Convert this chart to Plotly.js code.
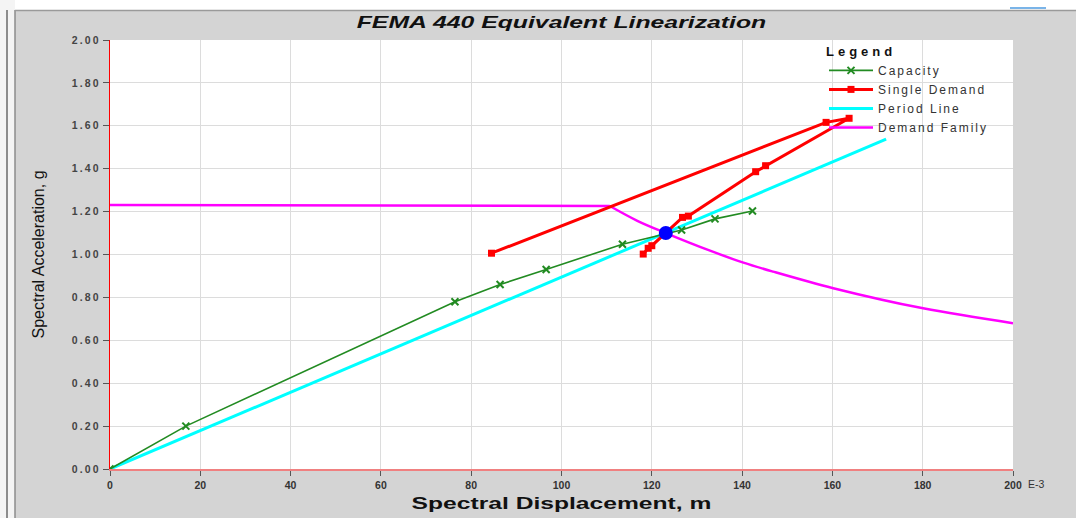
<!DOCTYPE html>
<html>
<head>
<meta charset="utf-8">
<script src="https://cdn.plot.ly/plotly-3.0.1.min.js"></script>
<style>
  html, body { margin: 0; padding: 0; background: #ffffff; }
  #chart { width: 1076px; height: 518px; }
  /* wide, spaced lettering used by the chart's captions */
  #chart .gtitle {
    transform-box: fill-box; transform-origin: center; transform: scaleX(1.55);
  }
  #chart .xtitle {
    transform-box: fill-box; transform-origin: center; transform: scaleX(1.45);
  }
  .legendtext { letter-spacing: 2px; }
  .legendtitletext { letter-spacing: 4px; }
  #chart .ytick text { letter-spacing: 2.2px; }
</style>
</head>
<body>
<div id="chart"></div>
<script>
// Capacity curve (spectral displacement in E-3 m, spectral acceleration in g)
const capacitySd = [0, 16.8, 76.4, 86.4, 96.6, 113.5, 126.6, 134.0, 142.3];
const capacitySa = [0, 0.20, 0.78, 0.86, 0.93, 1.048, 1.114, 1.166, 1.203];

// Single demand spectrum
const singleSd = [84.5, 158.6, 163.7, 145.2, 143.0, 128.1, 126.8, 120.0, 119.2, 118.1];
const singleSa = [1.006, 1.616, 1.635, 1.414, 1.386, 1.179, 1.173, 1.041, 1.029, 1.002];

// Period line through the origin
const periodSd = [0, 171.9];
const periodSa = [0, 1.538];

// Demand family (MADRS): constant-acceleration plateau, then the descending branch
const plateauSd = [0, 110.7];
const plateauSa = [1.231, 1.226];
const branchSd = [110.7, 116.8, 123.1, 132.9, 140.3, 146.9, 160.2, 180.1, 200];
const branchSa = [1.226, 1.157, 1.10, 1.018, 0.962, 0.920, 0.843, 0.749, 0.680];

// Performance point
const perfSd = [123.1];
const perfSa = [1.10];

// Axis ticks
const xTicks = [0, 20, 40, 60, 80, 100, 120, 140, 160, 180, 200];
const yTicks = [0, 0.2, 0.4, 0.6, 0.8, 1.0, 1.2, 1.4, 1.6, 1.8, 2.0];

const FONT = 'Arial, "Liberation Sans", sans-serif';

const traces = [
  {
    x: plateauSd, y: plateauSa, name: 'Demand Family', mode: 'lines',
    legendgroup: 'family', line: { color: '#ff00ff', width: 2.5 }, legendrank: 4
  },
  {
    x: branchSd, y: branchSa, name: 'Demand Family', mode: 'lines',
    legendgroup: 'family', showlegend: false,
    line: { color: '#ff00ff', width: 2.5, shape: 'spline', smoothing: 1 }
  },
  {
    x: periodSd, y: periodSa, name: 'Period Line', mode: 'lines',
    line: { color: '#00ffff', width: 3 }, legendrank: 3
  },
  {
    x: capacitySd, y: capacitySa, name: 'Capacity', mode: 'lines+markers',
    line: { color: '#228b22', width: 1.6 },
    marker: { symbol: 'x-thin', size: 7, color: '#228b22', line: { color: '#228b22', width: 2 } },
    legendrank: 1
  },
  {
    x: singleSd, y: singleSa, name: 'Single Demand', mode: 'lines+markers',
    line: { color: '#ff0000', width: 3 },
    marker: { symbol: 'square', size: 7, color: '#ff0000' },
    legendrank: 2
  },
  {
    x: perfSd, y: perfSa, mode: 'markers', showlegend: false,
    marker: { symbol: 'circle', size: 14, color: '#0000ff' }
  }
];

// pixel helpers for the frame drawn around the chart (paper coordinates)
const L = 110, R = 1013, T = 40, B = 469;
const px = v => (v - L) / (R - L);
const py = v => (B - v) / (B - T);

const layout = {
  width: 1076, height: 518,
  margin: { l: L, r: 1076 - R, t: T, b: 518 - B, pad: 0 },
  paper_bgcolor: '#d4d4d4',
  plot_bgcolor: '#ffffff',
  font: { family: FONT, color: '#333333', size: 11 },
  title: {
    text: 'FEMA 440 Equivalent Linearization',
    font: { family: FONT, size: 16, color: '#111111', weight: 'bold', style: 'italic' },
    x: px(561.5), xref: 'paper', xanchor: 'center',
    y: 1 - 22 / 518, yref: 'container', yanchor: 'middle'
  },
  xaxis: {
    range: [0, 200], tickvals: xTicks, ticktext: xTicks.map(String),
    showgrid: true, gridcolor: '#dcdcdc', gridwidth: 1,
    zeroline: false,
    showline: true, linecolor: '#f08080', linewidth: 2,
    ticks: 'outside', ticklen: 5, tickcolor: '#555555', tickwidth: 1,
    tickfont: { family: FONT, size: 10.5, color: '#333333', weight: 'bold' },
    title: {
      text: 'Spectral Displacement, m',
      font: { family: FONT, size: 17, color: '#111111', weight: 'bold' },
      standoff: 8
    },
    fixedrange: true
  },
  yaxis: {
    range: [0, 2.0], tickvals: yTicks, ticktext: yTicks.map(v => v.toFixed(2)),
    showgrid: true, gridcolor: '#dcdcdc', gridwidth: 1,
    zeroline: false,
    showline: true, linecolor: '#ff0000', linewidth: 1,
    ticks: 'outside', ticklen: 6, tickcolor: '#555555', tickwidth: 1,
    tickfont: { family: FONT, size: 10.5, color: '#444444', weight: 'bold' },
    title: {
      text: 'Spectral Acceleration, g',
      font: { family: FONT, size: 16, color: '#111111' },
      standoff: 31
    },
    fixedrange: true
  },
  legend: {
    x: px(824), xanchor: 'left', y: py(39), yanchor: 'top',
    bgcolor: 'rgba(0,0,0,0)', borderwidth: 0,
    font: { family: FONT, size: 12, color: '#333333' },
    title: { text: 'Legend', font: { family: FONT, size: 13, color: '#111111', weight: 'bold' }, side: 'top' },
    itemwidth: 44, tracegroupgap: 0
  },
  annotations: [
    {
      text: 'E-3', xref: 'paper', yref: 'paper',
      x: px(1026), y: py(484), xanchor: 'left', yanchor: 'middle',
      showarrow: false, font: { family: FONT, size: 10.5, color: '#333333' }
    }
  ],
  shapes: [
    // white strip across the top and left edge of the window
    { type: 'rect', xref: 'paper', yref: 'paper', x0: px(0), x1: px(1076), y0: py(10), y1: py(0),
      fillcolor: '#ffffff', line: { width: 0 }, layer: 'below' },
    { type: 'rect', xref: 'paper', yref: 'paper', x0: px(0), x1: px(15), y0: py(518), y1: py(0),
      fillcolor: '#f4f4f4', line: { width: 0 }, layer: 'below' },
    // double border on the left and rule along the top
    { type: 'line', xref: 'paper', yref: 'paper', x0: px(7), x1: px(7), y0: py(518), y1: py(10),
      line: { color: '#8c8c8c', width: 2 } },
    { type: 'line', xref: 'paper', yref: 'paper', x0: px(15), x1: px(15), y0: py(518), y1: py(10),
      line: { color: '#8c8c8c', width: 1.5 } },
    { type: 'line', xref: 'paper', yref: 'paper', x0: px(15), x1: px(1076), y0: py(10.5), y1: py(10.5),
      line: { color: '#9a9a9a', width: 1.5 } },
    { type: 'line', xref: 'paper', yref: 'paper', x0: px(1010), x1: px(1046), y0: py(8), y1: py(8),
      line: { color: '#7ab4e8', width: 2 } }
  ]
};

Plotly.newPlot('chart', traces, layout, { displayModeBar: false, staticPlot: true });
</script>
</body>
</html>
